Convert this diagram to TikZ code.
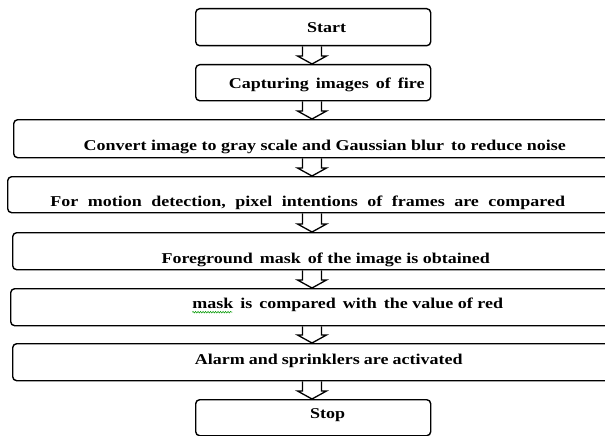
\documentclass[tikz,border=0pt]{standalone}
\usepackage{fontspec}
\setmainfont[FakeStretch=1.2]{Liberation Serif}
\usetikzlibrary{calc, decorations.pathmorphing}

\tikzset{
  stepbox/.style={draw, rounded corners=4pt, line width=1.4pt, anchor=north west,
    inner sep=0pt, font=\bfseries\fontsize{15}{17}\selectfont},
  blockarrow/.style={line width=1.3pt, line join=miter},
  lowtext/.style={text height=#1, text depth=0pt},
  widespace/.style={execute at begin node={\spaceskip=#1\relax}},
  spellwave/.style={green!60!black, line width=0.5pt,
    decorate, decoration={snake, amplitude=0.8pt, segment length=2.5pt}}
}

% hollow down arrow from box #1 to box #2
\newcommand{\flowarrow}[2]{%
  \draw [blockarrow]
    ($(#1.south -| mid)+(-9.5,0)$) --
    ($(#2.north -| mid)+(-9.5,-8)$) --
    ($(#2.north -| mid)+(-14.5,-8)$) --
    (#2.north -| mid) --
    ($(#2.north -| mid)+(14.5,-8)$) --
    ($(#2.north -| mid)+(9.5,-8)$) --
    ($(#1.south -| mid)+(9.5,0)$);
}

\begin{document}
\begin{tikzpicture}[x=1pt, y=-1pt]

  \useasboundingbox (0,0) rectangle (605,436);
  \clip (0,0) rectangle (605,436);
  \fill [white] (0,0) rectangle (605,436);

  \coordinate (mid) at (312,0);

  % Boxes
  \node [stepbox, lowtext=11pt, minimum width=235pt, minimum height=37pt]
    (start) at (195,8) {\hspace*{27pt}Start};
  \node [stepbox, lowtext=12pt, minimum width=235pt, minimum height=36pt]
    (capture) at (195,64) {\hspace*{27pt}Capturing\, images\, of\, fire};
  \node [stepbox, lowtext=24pt, minimum width=622pt, minimum height=38pt]
    (gray) at (13,119) {Convert image to gray scale and Gaussian blur\, to reduce noise};
  \node [stepbox, lowtext=24pt, widespace=9.5pt, minimum width=620pt, minimum height=36pt]
    (motion) at (7,176) {\hspace*{-20pt}For motion detection, pixel intentions of frames are compared};
  \node [stepbox, lowtext=25pt, minimum width=626pt, minimum height=37pt]
    (fgmask) at (12,232) {Foreground\, mask\, of the image is obtained};
  \node [stepbox, lowtext=3pt, minimum width=674pt, minimum height=37pt]
    (compare) at (10,288) {mask\, is\, compared\, with\, the value of red};
  \node [stepbox, lowtext=5pt, widespace=4pt, minimum width=632pt, minimum height=37pt]
    (alarm) at (12,343) {Alarm and sprinklers are activated};
  \node [stepbox, lowtext=2pt, minimum width=235pt, minimum height=36pt]
    (stop) at (195,399) {\hspace*{29pt}Stop};

  % spell check wave under "mask"
  \draw [spellwave] ($(compare.text)+(0,3.5)$) -- ++(40,0);

  % Arrows
  \flowarrow{start}{capture}
  \flowarrow{capture}{gray}
  \flowarrow{gray}{motion}
  \flowarrow{motion}{fgmask}
  \flowarrow{fgmask}{compare}
  \flowarrow{compare}{alarm}
  \flowarrow{alarm}{stop}

\end{tikzpicture}
\end{document}
